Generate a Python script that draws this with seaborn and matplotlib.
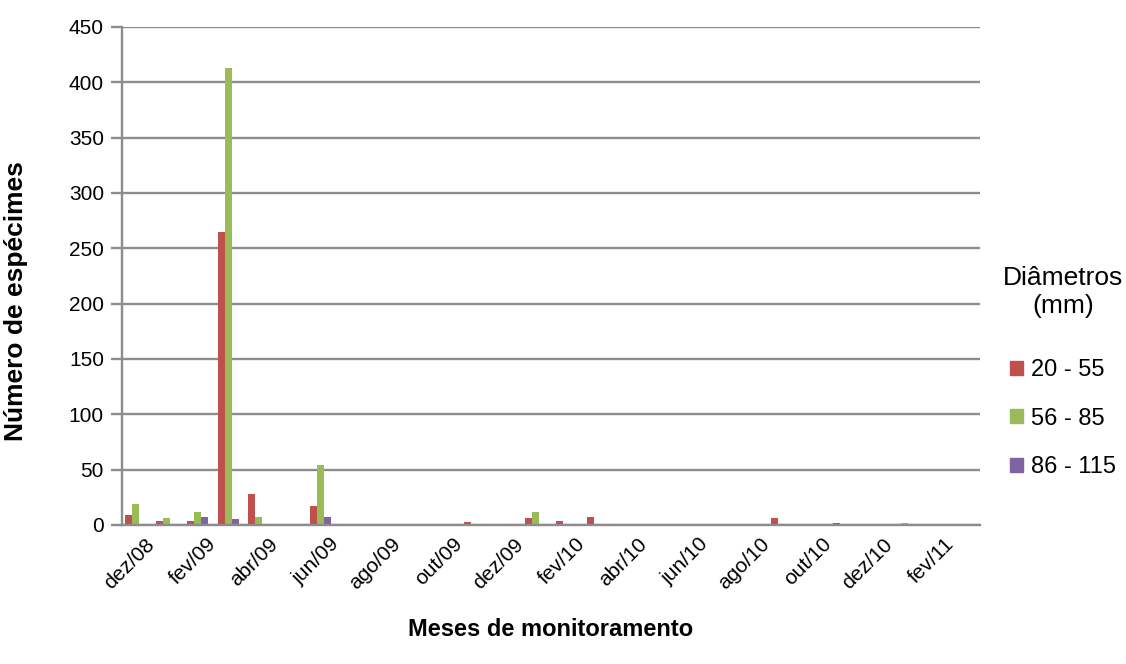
import matplotlib
matplotlib.use("Agg")
import matplotlib.pyplot as plt
import matplotlib.transforms as mtransforms
import seaborn as sns
import pandas as pd
import numpy as np

months = ["dez/08", "jan/09", "fev/09", "mar/09", "abr/09", "mai/09", "jun/09",
          "jul/09", "ago/09", "set/09", "out/09", "nov/09", "dez/09", "jan/10",
          "fev/10", "mar/10", "abr/10", "mai/10", "jun/10", "jul/10", "ago/10",
          "set/10", "out/10", "nov/10", "dez/10", "jan/11", "fev/11", "mar/11"]

d20_55 = [9, 4, 4, 265, 28, 0, 17, 0, 0, 1, 0, 3, 0, 6,
          4, 7, 0, 0, 0, 0, 1, 6, 0, 2, 0, 1, 0, 1]
d56_85 = [19, 6, 12, 413, 7, 0, 54, 1, 0, 1, 0, 0, 0, 12,
          0, 1, 0, 0, 0, 0, 1, 1, 0, 0, 0, 2, 0, 0]
d86_115 = [0, 1, 7, 5, 0, 0, 7, 0, 0, 0, 0, 0, 0, 0,
           0, 0, 0, 0, 0, 0, 0, 0, 0, 0, 0, 0, 0, 1]

series_names = ["20 - 55", "56 - 85", "86 - 115"]
colors = ["#C0504D", "#9BBB59", "#8064A2"]

df = pd.DataFrame({
    "mes": months * 3,
    "classe": np.repeat(series_names, len(months)),
    "n": d20_55 + d56_85 + d86_115,
})

sns.set_theme(style="white")
plt.rcParams["font.family"] = ["Liberation Sans", "DejaVu Sans"]
plt.rcParams["text.color"] = "black"
plt.rcParams["axes.labelcolor"] = "black"
plt.rcParams["xtick.labelcolor"] = "black"
plt.rcParams["ytick.labelcolor"] = "black"

fig = plt.figure(figsize=(11.26, 6.64), dpi=100)
ax = fig.add_axes([122 / 1126, 1 - 525 / 664, (980 - 122) / 1126, (525 - 27) / 664])

sns.barplot(data=df, x="mes", y="n", hue="classe", hue_order=series_names,
            order=months, palette=colors, width=0.68, gap=0,
            saturation=1, errorbar=None, ax=ax, legend=True, linewidth=0)

ax.set_ylim(0, 450)
ax.set_yticks(range(0, 451, 50))
ax.set_xlim(-0.45, len(months) - 0.55)
ax.yaxis.grid(True, color="#8C8C8C", linewidth=1.7)
ax.set_axisbelow(True)

for side in ["top", "right"]:
    ax.spines[side].set_visible(False)
for side in ["left", "bottom"]:
    ax.spines[side].set_color("#8C8C8C")
    ax.spines[side].set_linewidth(1.7)

ax.tick_params(axis="y", which="major", length=8, width=1.7, color="#8C8C8C",
               labelsize=15, pad=5, left=True)
ax.tick_params(axis="x", length=0, labelsize=15, pad=4)

tick_pos = list(range(0, len(months), 2))
ax.set_xticks(tick_pos)
ax.set_xticklabels([months[i] for i in tick_pos], rotation=45, ha="right",
                   rotation_mode="anchor")
shift = mtransforms.ScaledTranslation(9 / 100, -4 / 100, fig.dpi_scale_trans)
for lbl in ax.get_xticklabels():
    lbl.set_transform(lbl.get_transform() + shift)

ax.set_xlabel("Meses de monitoramento", fontsize=17, fontweight="bold", labelpad=18)
ax.set_ylabel("Número de espécimes", fontsize=19, fontweight="bold")
ax.yaxis.set_label_coords(-0.109, 0.45)

ax.get_legend().remove()
handles = [plt.Rectangle((0, 0), 1, 1, color=c) for c in colors]
leg = fig.legend(handles, series_names, title="Diâmetros\n(mm)",
                 loc="center", bbox_to_anchor=(1063 / 1126, 1 - 372 / 664),
                 frameon=False, fontsize=17, title_fontsize=19,
                 handlelength=0.55, handleheight=0.55, handletextpad=0.3,
                 labelspacing=1.12)
leg.get_title().set_multialignment("center")
leg._legend_box.sep = 30

fig.savefig("out.png", dpi=100)
